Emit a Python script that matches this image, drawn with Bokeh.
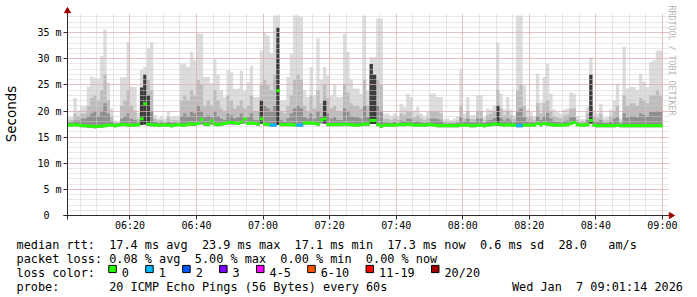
import math
from bokeh.plotting import figure
from bokeh.models import Range1d, FixedTicker, Title
from bokeh.layouts import column
from bokeh.embed import file_html
from bokeh.resources import INLINE
from bokeh.core.properties import value

# ------------------------------------------------------------------ data
graph_start = "06:01:14"          # left edge of the graph (now - 3 h)
graph_end = "09:01:14"            # right edge of the graph (now)
first_step = "06:01"              # first 60 s step drawn

x_tick_labels = ["06:20", "06:40", "07:00", "07:20", "07:40",
                 "08:00", "08:20", "08:40", "09:00"]
y_tick_values = [0, 5, 10, 15, 20, 25, 30, 35]          # ms
y_tick_labels = ["0\u00a0\u00a0", "5 m", "10 m", "15 m", "20 m", "25 m", "30 m", "35 m"]
y_top_ms = 38.47

# highest ping of each minute (ms)
rtt_max = [
    18.8, 18.8, 22.5, 20.1, 20.9, 20.9, 24.7, 26.6, 26.3, 26.2,
    30.5, 35.6, 25.5, 20.5, 18.2, 18.0, 26.4, 26.4, 33.2, 24.7,
    24.6, 19.6, 27.8, 28.4, 32.0, 33.2, 19.2, 18.6, 19.0, 18.5,
    19.8, 18.9, 19.0, 18.9, 29.1, 29.1, 28.4, 31.3, 29.7, 34.8,
    34.8, 26.5, 26.5, 25.3, 29.9, 27.0, 24.0, 22.7, 27.8, 27.4,
    24.2, 24.3, 27.7, 23.9, 25.5, 28.7, 22.7, 22.7, 31.6, 35.1,
    34.5, 31.0, 38.3, 38.3, 22.0, 22.0, 26.5, 31.0, 38.3, 38.3,
    38.0, 24.0, 22.7, 28.4, 23.0, 33.9, 26.0, 28.4, 26.8, 23.0,
    25.0, 22.7, 22.7, 34.8, 31.3, 26.0, 24.3, 24.3, 23.3, 38.3,
    24.0, 30.3, 30.3, 37.7, 37.7, 19.5, 19.5, 19.0, 19.5, 19.0,
    21.4, 20.8, 23.3, 22.7, 20.1, 20.8, 19.5, 19.0, 19.8, 23.3,
    23.3, 22.7, 22.7, 18.5, 18.6, 18.3, 18.6, 19.0, 28.1, 19.5,
    22.7, 19.2, 19.2, 23.0, 23.0, 18.9, 20.5, 20.3, 21.0, 33.1,
    23.3, 20.3, 22.7, 20.3, 19.2, 38.3, 38.3, 24.9, 20.3, 19.8,
    19.0, 27.2, 21.7, 26.5, 29.0, 23.3, 20.3, 19.8, 19.5, 20.3,
    20.5, 23.6, 23.3, 19.0, 18.5, 18.4, 20.8, 30.3, 20.1, 19.5,
    21.4, 18.7, 18.8, 20.3, 22.0, 25.2, 18.5, 32.3, 24.3, 24.6,
    24.6, 24.0, 27.2, 25.6, 24.6, 29.4, 29.7, 31.6, 31.6,
]
# top of the medium smoke band (ms)
rtt_upper = [
    18.2, 18.3, 19.5, 19.0, 19.5, 19.5, 21.0, 22.5, 23.0, 22.0,
    24.0, 27.0, 22.0, 19.0, 17.8, 17.8, 21.0, 22.0, 24.0, 21.0,
    20.0, 18.5, 24.0, 26.0, 26.0, 24.0, 18.5, 18.2, 18.3, 18.0,
    18.8, 18.2, 18.3, 18.2, 22.0, 23.0, 22.0, 24.0, 23.0, 26.0,
    25.0, 21.0, 22.0, 21.0, 24.0, 22.0, 20.5, 20.0, 23.0, 22.0,
    20.5, 21.0, 22.0, 20.5, 21.0, 23.0, 20.0, 20.0, 25.0, 26.0,
    25.0, 24.0, 27.0, 34.0, 20.0, 19.5, 21.0, 23.0, 26.0, 27.0,
    26.0, 21.0, 20.0, 23.0, 20.5, 24.0, 21.5, 25.0, 22.5, 20.5,
    21.0, 20.0, 20.0, 25.0, 23.5, 21.5, 21.0, 21.0, 20.5, 26.0,
    21.0, 27.0, 27.0, 26.0, 25.0, 18.5, 18.5, 18.3, 18.6, 18.3,
    19.5, 19.3, 20.0, 19.8, 18.8, 19.2, 18.6, 18.3, 18.6, 20.0,
    20.0, 19.8, 19.5, 18.0, 18.0, 17.9, 18.0, 18.2, 21.0, 18.6,
    20.0, 18.4, 18.4, 20.0, 20.0, 18.2, 19.3, 19.5, 20.0, 24.0,
    20.5, 19.2, 20.0, 19.2, 18.5, 24.0, 25.0, 21.0, 19.0, 18.8,
    18.3, 21.5, 19.5, 21.5, 22.0, 20.0, 19.0, 18.8, 18.6, 19.2,
    19.3, 20.5, 20.5, 18.3, 18.0, 18.0, 19.5, 24.0, 19.0, 18.7,
    19.5, 18.2, 18.2, 19.0, 20.0, 21.0, 18.0, 23.0, 21.0, 21.5,
    21.5, 21.0, 22.5, 22.0, 21.5, 23.0, 23.0, 24.0, 23.0,
]
# top of the dark smoke band (ms)
rtt_core = [
    17.8, 17.8, 18.2, 18.2, 18.5, 18.5, 19.0, 19.5, 20.0, 19.0,
    20.0, 21.5, 19.5, 18.0, 17.6, 17.6, 18.5, 19.0, 19.5, 18.5,
    18.3, 17.8, 22.0, 25.0, 23.0, 20.0, 17.9, 17.7, 17.8, 17.7,
    17.9, 17.7, 17.8, 17.7, 19.0, 19.5, 19.0, 20.0, 19.5, 21.0,
    20.0, 18.8, 19.2, 18.8, 20.0, 19.0, 18.5, 18.3, 19.5, 19.2,
    18.6, 18.8, 19.5, 18.5, 18.8, 19.5, 18.3, 18.3, 20.5, 21.0,
    20.5, 20.0, 21.0, 30.0, 18.3, 18.0, 18.6, 19.5, 20.5, 21.0,
    20.5, 18.8, 18.5, 19.5, 18.5, 20.0, 19.0, 22.0, 19.5, 18.5,
    18.8, 18.3, 18.3, 20.5, 20.0, 19.0, 18.8, 18.8, 18.5, 21.0,
    18.8, 25.0, 24.0, 21.0, 20.0, 17.8, 17.8, 17.7, 17.9, 17.7,
    18.2, 18.1, 18.5, 18.4, 17.9, 18.1, 17.8, 17.7, 17.8, 18.5,
    18.5, 18.4, 18.2, 17.6, 17.6, 17.6, 17.6, 17.7, 18.8, 17.9,
    18.5, 17.8, 17.8, 18.5, 18.5, 17.7, 18.2, 18.3, 18.6, 21.0,
    18.6, 18.2, 18.5, 18.2, 17.8, 20.0, 20.5, 18.8, 18.0, 17.9,
    17.8, 19.0, 18.3, 19.0, 19.5, 18.5, 18.0, 17.9, 17.8, 18.1,
    18.2, 18.8, 18.8, 17.8, 17.6, 17.6, 18.3, 21.0, 18.1, 17.9,
    18.3, 17.7, 17.7, 18.0, 18.5, 18.8, 17.6, 19.5, 18.8, 19.0,
    19.0, 18.8, 19.5, 19.3, 19.0, 19.8, 19.8, 20.0, 19.8,
]
# lowest ping of each minute (ms)
rtt_min = [
    17.0, 17.0, 17.1, 17.0, 16.9, 16.9, 16.8, 16.8, 16.7, 16.8,
    16.8, 16.9, 17.0, 17.0, 16.9, 17.0, 17.1, 17.1, 17.0, 17.0,
    17.0, 17.1, 17.3, 17.4, 17.2, 17.1, 17.0, 17.0, 17.0, 17.0,
    17.0, 16.9, 17.0, 17.1, 17.0, 17.0, 17.2, 17.2, 17.2, 17.3,
    17.4, 17.2, 17.1, 17.4, 17.2, 17.1, 17.2, 17.3, 17.4, 17.4,
    17.4, 17.3, 17.5, 17.6, 17.3, 17.4, 17.3, 17.2, 17.6, 17.2,
    17.1, 17.0, 17.0, 17.3, 17.1, 17.1, 17.1, 17.1, 17.0, 17.0,
    17.0, 17.4, 17.4, 17.4, 17.3, 17.2, 17.6, 17.6, 17.1, 17.1,
    17.1, 17.1, 17.1, 17.2, 17.1, 17.1, 17.0, 17.0, 17.1, 17.2,
    17.2, 17.5, 17.5, 17.1, 16.8, 17.0, 17.0, 17.0, 17.0, 17.1,
    17.1, 17.1, 17.2, 17.1, 17.0, 17.0, 17.0, 17.0, 17.1, 17.1,
    17.0, 16.9, 16.9, 16.9, 16.9, 16.9, 16.9, 16.9, 17.0, 17.0,
    17.0, 16.9, 16.9, 17.0, 17.0, 16.9, 17.0, 17.1, 17.2, 17.2,
    17.1, 17.0, 17.1, 17.0, 17.0, 16.9, 16.9, 17.0, 17.0, 17.0,
    17.0, 17.3, 17.1, 17.3, 17.2, 17.1, 17.0, 17.0, 17.0, 17.0,
    17.1, 17.3, 17.5, 17.1, 17.0, 17.0, 17.1, 17.6, 17.0, 16.9,
    16.9, 16.9, 16.9, 16.9, 16.9, 17.0, 16.9, 16.9, 16.9, 16.9,
    16.9, 16.9, 16.9, 16.9, 16.9, 16.9, 16.9, 16.9, 16.9,
]
# near-black centre of the few very spread minutes: minute index -> top (ms)
rtt_black = {22: 24.5, 23: 27.0, 24: 23.0, 58: 22.0, 63: 36.0, 77: 22.0,
             91: 29.0, 92: 27.0, 129: 21.0, 157: 27.0}
# median rtt of each minute (ms)
rtt_median = [
    17.3, 17.3, 17.4, 17.3, 17.2, 17.2, 17.1, 17.1, 17.0, 17.1,
    17.1, 17.2, 17.3, 17.3, 17.2, 17.3, 17.4, 17.4, 17.3, 17.3,
    17.3, 17.4, 18.5, 21.4, 17.5, 17.4, 17.3, 17.3, 17.3, 17.3,
    17.3, 17.2, 17.3, 17.4, 17.3, 17.3, 17.5, 17.5, 17.5, 17.6,
    18.4, 17.5, 17.4, 18.1, 17.5, 17.4, 17.5, 17.6, 17.8, 17.8,
    17.7, 17.6, 17.9, 18.5, 17.6, 17.7, 17.6, 17.5, 18.5, 17.5,
    17.4, 17.3, 17.3, 23.9, 17.4, 17.4, 17.4, 17.4, 17.3, 17.3,
    17.3, 17.7, 17.7, 17.7, 17.6, 17.5, 18.3, 18.5, 17.4, 17.4,
    17.4, 17.4, 17.4, 17.5, 17.4, 17.4, 17.3, 17.3, 17.4, 17.5,
    17.5, 18.2, 18.2, 17.4, 17.1, 17.3, 17.3, 17.3, 17.3, 17.4,
    17.4, 17.4, 17.5, 17.4, 17.3, 17.3, 17.3, 17.3, 17.4, 17.4,
    17.3, 17.2, 17.2, 17.2, 17.2, 17.2, 17.2, 17.2, 17.3, 17.3,
    17.3, 17.2, 17.2, 17.3, 17.3, 17.2, 17.3, 17.4, 17.5, 17.5,
    17.4, 17.3, 17.4, 17.3, 17.3, 17.2, 17.2, 17.3, 17.3, 17.3,
    17.3, 17.6, 17.4, 17.6, 17.5, 17.4, 17.3, 17.3, 17.3, 17.3,
    17.4, 17.6, 17.8, 17.4, 17.3, 17.3, 17.4, 18.2, 17.3, 17.2,
    17.2, 17.2, 17.2, 17.2, 17.2, 17.3, 17.2, 17.2, 17.2, 17.2,
    17.2, 17.2, 17.2, 17.2, 17.2, 17.2, 17.2, 17.2, 17.2,
]
# lost pings (of 20) in each minute
loss_count = [
    0, 0, 0, 0, 0, 0, 0, 0, 0, 0,  0, 0, 0, 0, 0, 0, 0, 0, 0, 0,
    0, 0, 0, 0, 0, 0, 0, 0, 0, 0,  0, 0, 0, 0, 0, 0, 0, 0, 0, 0,
    0, 0, 0, 0, 0, 0, 0, 0, 0, 0,  0, 0, 0, 0, 0, 0, 0, 0, 0, 0,
    0, 1, 1, 0, 0, 0, 0, 0, 0, 1,  1, 0, 0, 0, 0, 0, 0, 0, 0, 0,
    0, 0, 0, 0, 0, 0, 0, 0, 0, 0,  0, 0, 0, 0, 0, 0, 0, 0, 0, 0,
    0, 0, 0, 0, 0, 0, 0, 0, 0, 0,  0, 0, 0, 0, 0, 0, 0, 0, 0, 0,
    0, 0, 0, 0, 0, 0, 0, 0, 0, 0,  0, 0, 0, 0, 0, 1, 1, 0, 0, 0,
    0, 0, 0, 0, 0, 0, 0, 0, 0, 0,  0, 0, 0, 0, 0, 0, 0, 0, 0, 0,
    0, 0, 0, 0, 0, 0, 0, 0, 0, 0,  0, 0, 0, 0, 0, 0, 0, 0, 0,
]

loss_labels = ["0", "1", "2", "3", "4-5", "6-10", "11-19", "20/20"]
loss_limits = [0, 1, 2, 3, 5, 10, 19, 20]
loss_colors = ["#26ff00", "#00b8ff", "#0059ff", "#7e00ff",
               "#ff00ff", "#ff5500", "#ff0000", "#a10000"]

rtt_legend = ["median rtt:", "17.4 ms avg", "23.9 ms max", "17.1 ms min",
              "17.3 ms now", "0.6 ms sd", "28.0", "am/s"]
loss_legend = ["packet loss:", "0.08 % avg", "5.00 % max", "0.00 % min", "0.00 % now"]
color_legend_title = "loss color:"
probe_legend = ["probe:", "20 ICMP Echo Pings (56 Bytes) every 60s"]
date_legend = ["Wed Jan", "7 09:01:14 2026"]
watermark = "RRDTOOL / TOBI OETIKER"

n = len(rtt_max)
for arr in (rtt_upper, rtt_core, rtt_min, rtt_median, loss_count):
    assert len(arr) == n, len(arr)


def minutes(hms):
    parts = [int(v) for v in hms.split(":")]
    while len(parts) < 3:
        parts.append(0)
    return parts[0] * 60 + parts[1] + parts[2] / 60.0 - 360.0


# ------------------------------------------------------------------ layout / style
W = 697
TOP_H = 235
AXIS_X, AXIS_Y = 66, 215            # pixel position of the y axis / x axis
GRAPH_W, GRAPH_H = 600, 201         # pixel size of the data area
PAD_L, PAD_T, PAD_R, PAD_B = 4, 6, 7, 4   # room for axis extensions and arrows
AXIS = "#2c2c2c"
ARROW = "#a00000"
MONO = "DejaVu Sans Mono"
MAJOR_GRID = "#e79a9a"
MINOR_GRID = "#cfcfcf"

x_lo, x_hi = minutes(graph_start), minutes(graph_end)
ppm = GRAPH_W / (x_hi - x_lo)       # px per minute
ppms = GRAPH_H / y_top_ms           # px per ms

t0 = minutes(first_step)
xs = [t0 + i for i in range(n)]
x_left = [max(x, x_lo) for x in xs]
x_steps = [max(x, x_lo) for x in xs] + [xs[-1] + 1]


def ext(a):
    return a + [a[-1]]


frame_l = AXIS_X - PAD_L
frame_t = AXIS_Y - GRAPH_H - PAD_T
frame_w = GRAPH_W + PAD_L + PAD_R
frame_h = GRAPH_H + PAD_T + PAD_B

p = figure(width=W, height=TOP_H,
           x_range=Range1d(x_lo - PAD_L / ppm, x_hi + PAD_R / ppm),
           y_range=Range1d(-PAD_B / ppms, y_top_ms + PAD_T / ppms),
           output_backend="svg", toolbar_location=None, title=None,
           min_border_left=frame_l, min_border_right=W - frame_l - frame_w,
           min_border_top=frame_t, min_border_bottom=TOP_H - frame_t - frame_h,
           background_fill_color="white", border_fill_color="white",
           outline_line_color=None)

# smoke
p.varea_step(x=x_steps, y1=ext(rtt_min), y2=ext(rtt_max), step_mode="after",
             fill_color="#dcdcdc", level="underlay")
p.varea_step(x=x_steps, y1=ext(rtt_min), y2=ext(rtt_upper), step_mode="after",
             fill_color="#bdbdbd", level="underlay")
p.varea_step(x=x_steps, y1=ext(rtt_min), y2=ext(rtt_core), step_mode="after",
             fill_color="#8f8f8f", level="underlay")
bk = sorted(rtt_black)
p.quad(left=[x_left[i] for i in bk], right=[xs[i] + 1 for i in bk],
       bottom=[rtt_min[i] for i in bk], top=[rtt_black[i] for i in bk],
       fill_color="#3c3c3c", line_color=None, level="underlay")


# median, coloured by loss
def loss_color(c):
    for lim, col in zip(loss_limits, loss_colors):
        if c <= lim:
            return col
    return loss_colors[-1]


half = 1.5 / ppms
p.quad(left=x_left, right=[x + 1.12 for x in xs],
       bottom=[m - half for m in rtt_median], top=[m + half for m in rtt_median],
       fill_color=[loss_color(c) for c in loss_count], line_color=None, level="annotation")

# axes / grid
x_major = [minutes(t) for t in x_tick_labels]
x_minor = [v for v in range(5, 185, 5)]
y_minor = [v for v in range(0, 39)]

p.xaxis.ticker = FixedTicker(ticks=x_major, minor_ticks=x_minor)
p.xaxis.major_label_overrides = {minutes(t): t for t in x_tick_labels}
p.yaxis.ticker = FixedTicker(ticks=y_tick_values, minor_ticks=y_minor)
p.yaxis.major_label_overrides = dict(zip(y_tick_values, y_tick_labels))

grid_has_cross = "cross_bounds" in p.xgrid[0].properties()
for g, maj, mnr in ((p.xgrid[0], x_major, x_minor), (p.ygrid[0], y_tick_values, y_minor)):
    g.ticker = FixedTicker(ticks=maj, minor_ticks=mnr)
    g.grid_line_color = MAJOR_GRID
    g.grid_line_dash = "1 1"
    g.minor_grid_line_color = MINOR_GRID
    g.minor_grid_line_dash = "1 1"
    g.level = "glyph"
if grid_has_cross:
    p.xgrid[0].cross_bounds = (0, y_top_ms + 1 / ppms)
    p.ygrid[0].cross_bounds = (x_lo, x_hi + 2 / ppm)

for ax in (p.xaxis[0], p.yaxis[0]):
    ax.axis_line_color = None
    ax.major_tick_line_color = AXIS
    ax.major_tick_out = 0
    ax.minor_tick_out = 0
    ax.minor_tick_in = 0
    ax.major_label_text_font = MONO
    ax.major_label_text_font_size = "10px"
    ax.major_label_text_color = "black"
p.xaxis.major_tick_in = PAD_B
p.yaxis.major_tick_in = PAD_L
p.xaxis.major_label_standoff = 0
p.yaxis.major_label_standoff = 2
p.yaxis.axis_label = "Seconds"
p.yaxis.axis_label_text_font = "DejaVu Sans"
p.yaxis.axis_label_text_font_size = "13.5px"
p.yaxis.axis_label_text_font_style = "normal"
p.yaxis.axis_label_text_color = "black"
p.yaxis.axis_label_standoff = 15

# axis lines with arrows
p.segment(x0=[x_lo - PAD_L / ppm, x_lo], y0=[0, -PAD_B / ppms],
          x1=[x_hi + (PAD_R - 2) / ppm, x_lo], y1=[0, y_top_ms + (PAD_T - 2) / ppms],
          line_color=AXIS, line_width=1, level="annotation")
p.scatter(x=[x_lo, x_hi + (PAD_R - 2.5) / ppm], y=[y_top_ms + (PAD_T - 2.5) / ppms, 0],
          marker="triangle", size=6, angle=[0, -math.pi / 2],
          fill_color=ARROW, line_color=ARROW, level="annotation")

# watermark at the right edge
p.add_layout(Title(text=watermark, align="left", text_font=MONO, text_font_size="8.3px",
                   text_color="#b4b4b4", text_font_style="normal", standoff=-13, offset=-3),
             "right")

# ------------------------------------------------------------------ legend block
LG_H = 297 - TOP_H
lg = figure(width=W, height=LG_H, x_range=Range1d(0, W), y_range=Range1d(297, TOP_H),
            output_backend="svg", toolbar_location=None, title=None,
            x_axis_type=None, y_axis_type=None,
            min_border_left=0, min_border_right=0, min_border_top=0, min_border_bottom=0,
            background_fill_color="white", border_fill_color="white",
            outline_line_color=None)
lg.xgrid.visible = False
lg.ygrid.visible = False
for fig in (p, lg):
    if "frame_align" in fig.properties():
        fig.frame_align = False

CW = 7.13
X0 = 16
rows_y = [244.0, 258.2, 272.4, 286.6]

tx, ty, tt = [], [], []
for cols, items, yy in (([0, 13, 26, 39, 52, 65, 76, 83], rtt_legend, rows_y[0]),
                        ([0, 13, 25, 37, 49], loss_legend, rows_y[1]),
                        ([0], [color_legend_title], rows_y[2]),
                        ([0, 13], probe_legend, rows_y[3])):
    for c, s in zip(cols, items):
        tx.append(X0 + c * CW)
        ty.append(yy)
        tt.append(s)

bx = 108.3
box_l, lab_x = [], []
for lab in loss_labels:
    box_l.append(bx)
    lab_x.append(bx + 13)
    bx = bx + 13 + len(lab) * CW + 16.8
tx += lab_x
ty += [rows_y[2]] * len(loss_labels)
tt += loss_labels

DATE_R = 682.5
lg.text(x=[DATE_R - (len(date_legend[1]) + 2) * CW, DATE_R], y=[rows_y[3], rows_y[3]],
        text=date_legend, text_font=value(MONO), text_font_size="11.85px",
        text_color="black", text_align="right", text_baseline="alphabetic")
lg.text(x=tx, y=ty, text=tt, text_font=value(MONO), text_font_size="11.85px",
        text_color="black", text_align="left", text_baseline="alphabetic")
lg.quad(left=box_l, right=[b + 7.5 for b in box_l],
        top=[rows_y[2] - 7.5] * len(box_l), bottom=[rows_y[2] - 0.3] * len(box_l),
        fill_color=loss_colors, line_color="black", line_width=1)

layout = column(p, lg, spacing=0)
open("out.html", "w").write(file_html(layout, INLINE))
